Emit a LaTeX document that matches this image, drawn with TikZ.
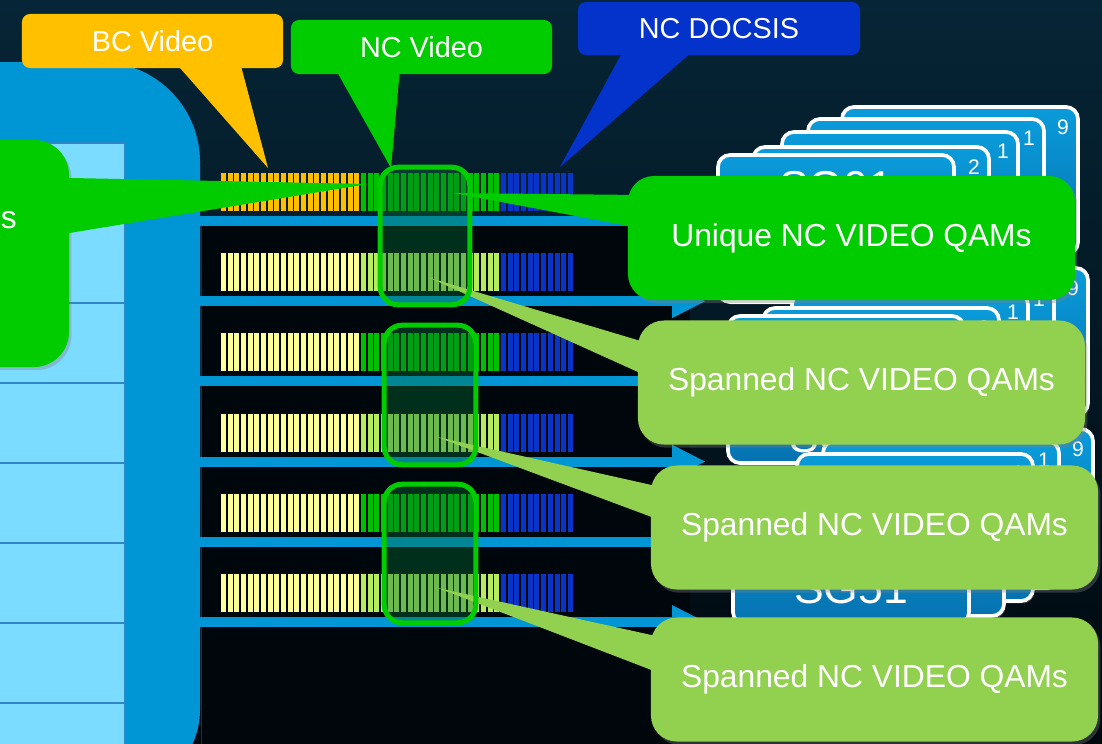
\documentclass[tikz,border=0pt]{standalone}
\usepackage{fontspec}
\setmainfont{Liberation Sans}
\usetikzlibrary{shadows}

\definecolor{slidetop}{HTML}{062536}
\definecolor{slidebot}{HTML}{00080E}
\definecolor{panelblue}{HTML}{0096D6}
\definecolor{panellight}{HTML}{7CDCFF}
\definecolor{panelline}{HTML}{2E86C6}
\definecolor{rowdark}{HTML}{00070C}
\definecolor{rowedge}{HTML}{0A3550}
\definecolor{bcorange}{HTML}{FFC000}
\definecolor{ncgreen}{HTML}{00CC00}
\definecolor{docsisblue}{HTML}{0433CC}
\definecolor{spangreen}{HTML}{92D050}
\definecolor{qamyellow}{HTML}{FFFF99}
\definecolor{qamorange}{HTML}{FFBF00}
\definecolor{qamgreen}{HTML}{00BF00}
\definecolor{qamlime}{HTML}{B8EC60}
\definecolor{qamblue}{HTML}{0A34C8}
\definecolor{hlfill}{HTML}{006E32}
\definecolor{cardtop}{HTML}{0A9BDA}
\definecolor{cardbot}{HTML}{0672B0}

\tikzstyle{tagbox} = [rectangle, rounded corners=0.2cm, inner sep=0pt, text=white, font=\fontsize{20.5}{24}\selectfont]
\tikzstyle{bubble} = [rectangle, rounded corners=0.65cm, inner sep=0pt, minimum width=11.175cm, minimum height=3.1cm, text=white, font=\fontsize{22.6}{27}\selectfont, drop shadow={opacity=0.35, shadow xshift=0.06cm, shadow yshift=-0.08cm}]
\tikzstyle{spanbox} = [bubble, fill=spangreen]
\tikzstyle{card} = [draw=white, line width=2.6pt, rounded corners=0.3cm, top color=cardtop, bottom color=cardbot, drop shadow={opacity=0.5, fill=gray, shadow xshift=0.04cm, shadow yshift=-0.06cm}]
\tikzstyle{cardnum} = [anchor=north east, inner sep=0pt, text=white, font=\fontsize{15}{18}\selectfont]
\tikzstyle{cardname} = [anchor=base, inner sep=0pt, text=white, font=\fontsize{31.7}{38}\selectfont]
\tikzstyle{hlshade} = [rectangle, rounded corners=0.45cm, fill=hlfill, fill opacity=0.4, inner sep=0pt]
\tikzstyle{hlrim} = [draw=ncgreen, line width=3.6pt, rounded corners=0.45cm]
\tikzstyle{stripe} = [fill=panelblue]

\begin{document}
\begin{tikzpicture}[x=0.025cm, y=-0.025cm]

    \useasboundingbox (0,0) rectangle (1102,743);
    \shade[top color=slidetop, bottom color=slidebot] (0,0) rectangle (1102,743);

    % service group cards
    \foreach \ex/\ey/\sg/\bl in {718/155/SG01/47, 728/316/SG31/136, 733/477/SG51/126} {
        \foreach \dx/\dy/\num in {124/-48/9, 90/-36/1, 64/-23/1, 35/-8/2} {
            \draw[card] (\ex+\dx,\ey+\dy) rectangle ++(236,147);
            \node[cardnum] (num\sg-\dx) at (\ex+\dx+227,\ey+\dy+12) {\num};
        }
        \draw[card] (\ex,\ey) rectangle ++(236,147);
        \node[cardname] (\sg) at (\ex+118,\ey+\bl) {\sg};
    }

    % headend panel
    \fill[panelblue] (-10,62) -- (100,62) arc[start angle=90, end angle=0, radius=2.5cm]
        -- (200,710) arc[start angle=0, end angle=-90, radius=2cm] -- (-10,790) -- cycle;
    \fill[panellight] (-10,143) rectangle (125,760);
    \draw[panelline, line width=1.4pt] (-10,143) -- (125,143) -- (125,760);
    \foreach \k in {0,...,6}
        \draw[panelline, line width=1.4pt] (-10,222.7+80*\k) -- (125,222.7+80*\k);

    % rows
    \foreach \r in {1,...,5} {
        \pgfmathsetmacro\st{216+80.2*\r}
        \fill[rowdark] (201,\st-70.2) rectangle (690,\st);
        \draw[rowedge, line width=0.6pt] (201,\st-70.2) -- (201,\st);
    }
    \fill[rowdark] (201,627) rectangle (690,760);
    \draw[rowedge, line width=0.6pt] (201,627) -- (201,760);

    \foreach \r/\lc/\mc in {0/qamorange/qamgreen, 1/qamyellow/qamlime, 2/qamyellow/qamgreen,
                            3/qamyellow/qamlime, 4/qamyellow/qamgreen, 5/qamyellow/qamlime} {
        \pgfmathsetmacro\st{216+80.2*\r}
        \fill[stripe] (190,\st) rectangle (672,\st+10);
        \fill[stripe] (672,\st-12) -- (705,\st+5) -- (672,\st+22) -- cycle;
        \foreach \i in {0,...,52} {
            \pgfmathsetmacro\bx{221+6.67*\i}
            \ifnum\i<21 \def\bc{\lc}\else\ifnum\i<42 \def\bc{\mc}\else\def\bc{qamblue}\fi\fi
            \fill[\bc] (\bx,\st-43) rectangle +(5,38);
        }
    }

    % spanned groups
    \node[hlshade, minimum width=2.225cm, minimum height=3.425cm] (hl1) at (425,236) {};
    \node[hlshade, minimum width=2.275cm, minimum height=3.475cm] (hl2) at (430,395) {};
    \node[hlshade, minimum width=2.275cm, minimum height=3.45cm] (hl3) at (430,553.5) {};

    % callouts
    \node[rectangle, rounded corners=0.875cm, fill=ncgreen, minimum width=3.225cm, minimum height=5.675cm,
        drop shadow={opacity=0.35, shadow xshift=0.06cm, shadow yshift=-0.08cm}] (leftcall) at (4.5,253.5) {};
    \node[anchor=base west, inner sep=0pt, text=white, font=\fontsize{22.6}{27}\selectfont] (lefttext) at (0.5,228) {s};

    \node[tagbox, fill=bcorange, minimum width=6.525cm, minimum height=1.35cm] (bc) at (152.5,41) {BC Video};
    \node[tagbox, fill=ncgreen, minimum width=6.525cm, minimum height=1.35cm] (ncv) at (421.5,47) {NC Video};
    \node[tagbox, fill=docsisblue, minimum width=7.05cm, minimum height=1.325cm] (ncd) at (719,28.5) {NC DOCSIS};

    \node[bubble, fill=ncgreen] (unique) at (851.5,238) {Unique NC VIDEO QAMs};
    \node[spanbox] (span1) at (861.5,382.5) {Spanned NC VIDEO QAMs};
    \node[spanbox] (span2) at (874.5,527.5) {Spanned NC VIDEO QAMs};
    \node[spanbox] (span3) at (874.5,679.5) {Spanned NC VIDEO QAMs};

    \coordinate (lefttip) at (368,184);
    \coordinate (bctip) at (268,168);
    \coordinate (ncvtip) at (391,168);
    \coordinate (ncdtip) at (560,167);
    \coordinate (uniquetip) at (453,193);
    \coordinate (span1tip) at (430,278);
    \coordinate (span2tip) at (437,437);
    \coordinate (span3tip) at (438,588);

    \fill[ncgreen] ([xshift=-0.35cm, yshift=1.895cm]leftcall.east) -- (lefttip) -- ([xshift=-0.35cm, yshift=0.455cm]leftcall.east) -- cycle;
    \fill[bcorange] ([xshift=0.5625cm, yshift=0.15cm]bc.south) -- (bctip) -- ([xshift=2.1875cm, yshift=0.15cm]bc.south) -- cycle;
    \fill[ncgreen] ([xshift=-2.1625cm, yshift=0.15cm]ncv.south) -- (ncvtip) -- ([xshift=-0.5375cm, yshift=0.15cm]ncv.south) -- cycle;
    \fill[docsisblue] ([xshift=-2.375cm, yshift=0.15cm]ncd.south) -- (ncdtip) -- ([xshift=-0.6cm, yshift=0.15cm]ncd.south) -- cycle;
    \fill[ncgreen] ([xshift=0.3cm, yshift=1.075cm]unique.west) -- (uniquetip) -- ([xshift=0.3cm, yshift=0.25cm]unique.west) -- cycle;
    \fill[spangreen] ([xshift=0.3cm, yshift=0.97cm]span1.west) -- (span1tip) -- ([xshift=0.3cm, yshift=0.13cm]span1.west) -- cycle;
    \fill[spangreen] ([xshift=0.3cm, yshift=1.0cm]span2.west) -- (span2tip) -- ([xshift=0.3cm, yshift=0.16cm]span2.west) -- cycle;
    \fill[spangreen] ([xshift=0.3cm, yshift=1.05cm]span3.west) -- (span3tip) -- ([xshift=0.3cm, yshift=0.13cm]span3.west) -- cycle;

    \draw[hlrim] (hl1.south west) rectangle (hl1.north east);
    \draw[hlrim] (hl2.south west) rectangle (hl2.north east);
    \draw[hlrim] (hl3.south west) rectangle (hl3.north east);

\end{tikzpicture}
\end{document}
